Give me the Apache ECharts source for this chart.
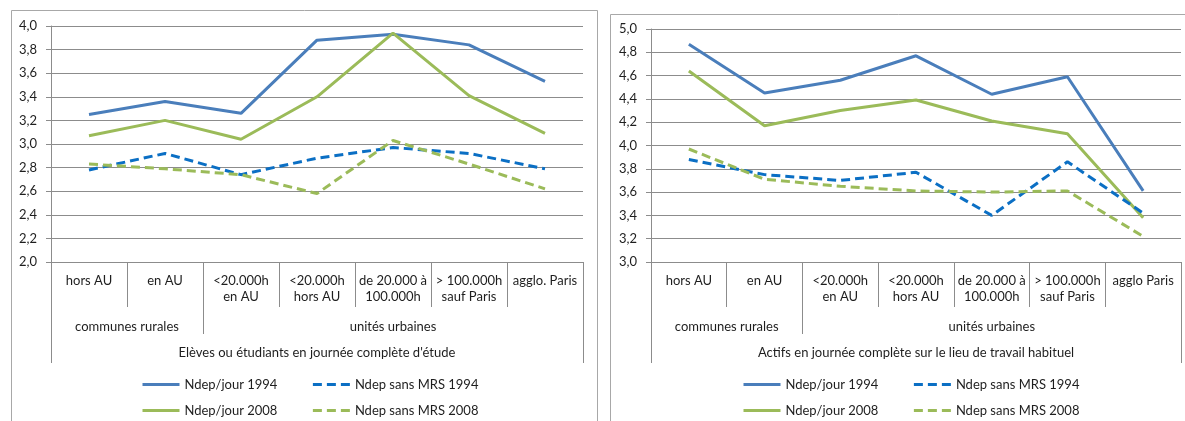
<!DOCTYPE html>
<html>
<head>
<meta charset="utf-8">
<script src="https://cdn.jsdelivr.net/npm/echarts@6/dist/echarts.min.js"></script>
<style>
  html, body { margin: 0; padding: 0; background: #fff; }
  #chart { width: 1185px; height: 421px; }
</style>
</head>
<body>
<div id="chart"></div>
<script>
// categories (first row of the axis)
const categoriesLeft = ['hors AU', 'en AU', '<20.000h\nen AU', '<20.000h\nhors AU', 'de 20.000 à\n100.000h', '> 100.000h\nsauf Paris', 'agglo. Paris'];
const categoriesRight = ['hors AU', 'en AU', '<20.000h\nen AU', '<20.000h\nhors AU', 'de 20.000 à\n100.000h', '> 100.000h\nsauf Paris', 'agglo Paris'];
// second row: groups and how many categories each one covers
const groupLabels = ['communes rurales', 'unités urbaines'];
const groupSpans = [2, 5];
// third row
const titleLeft = "Elèves ou étudiants en journée complète d'étude";
const titleRight = 'Actifs en journée complète sur le lieu de travail habituel';

const seriesNames = ['Ndep/jour 1994', 'Ndep sans MRS 1994', 'Ndep/jour 2008', 'Ndep sans MRS 2008'];

// left panel : élèves / étudiants
const leftJour1994 = [3.25, 3.36, 3.26, 3.88, 3.93, 3.84, 3.53];
const leftSansMrs1994 = [2.78, 2.92, 2.74, 2.88, 2.97, 2.92, 2.79];
const leftJour2008 = [3.07, 3.20, 3.04, 3.40, 3.94, 3.41, 3.09];
const leftSansMrs2008 = [2.83, 2.79, 2.74, 2.58, 3.03, 2.83, 2.62];

// right panel : actifs
const rightJour1994 = [4.87, 4.45, 4.56, 4.77, 4.44, 4.59, 3.61];
const rightSansMrs1994 = [3.88, 3.75, 3.70, 3.77, 3.40, 3.86, 3.42];
const rightJour2008 = [4.64, 4.17, 4.30, 4.39, 4.21, 4.10, 3.38];
const rightSansMrs2008 = [3.97, 3.71, 3.65, 3.61, 3.60, 3.61, 3.22];

// y axis ranges
const leftYMin = 2.0, leftYMax = 4.0;
const rightYMin = 3.0, rightYMax = 5.0;
const yStep = 0.2;

const FONT = 'Lato';
const TXT = '#1e1e1e';
const GRIDC = '#8c8c8c';
const BORDER = '#a8a8a8';

const chart = echarts.init(document.getElementById('chart'), null, { renderer: 'canvas' });

// group boundaries and centers from spans
const groupBounds = [];
const groupCenters = [];
let acc = 0;
groupSpans.forEach(function (s) {
    groupCenters.push(acc + s / 2);
    acc += s;
    groupBounds.push(acc);
});
const nCat = acc;

function makeXAxes(gridIndex, cats, title) {
    return [
        {
            gridIndex: gridIndex,
            type: 'category',
            position: 'bottom',
            data: cats,
            boundaryGap: true,
            axisLine: { lineStyle: { color: GRIDC, width: 1 } },
            axisTick: { show: true, interval: 0, length: 45, lineStyle: { color: GRIDC } },
            axisLabel: {
                interval: 0, margin: 11, fontFamily: FONT, fontSize: 13,
                lineHeight: 16, color: TXT, hideOverlap: false
            },
            splitLine: { show: false }
        },
        {
            gridIndex: gridIndex,
            type: 'value',
            position: 'bottom',
            min: 0, max: nCat,
            axisLine: { show: false },
            splitLine: { show: false },
            axisTick: {
                show: true, length: 72, customValues: groupBounds.slice(0, -1),
                lineStyle: { color: GRIDC }
            },
            axisLabel: {
                customValues: groupCenters, margin: 57, fontFamily: FONT, fontSize: 13,
                lineHeight: 16, color: TXT,
                formatter: function (v) {
                    const i = groupCenters.indexOf(v);
                    return i >= 0 ? groupLabels[i] : '';
                }
            }
        },
        {
            gridIndex: gridIndex,
            type: 'value',
            position: 'bottom',
            min: 0, max: nCat,
            axisLine: { show: false },
            splitLine: { show: false },
            axisTick: {
                show: true, length: 101, customValues: [0, nCat],
                lineStyle: { color: GRIDC }
            },
            axisLabel: {
                customValues: [nCat / 2], margin: 83, fontFamily: FONT, fontSize: 13,
                lineHeight: 16, color: TXT,
                formatter: function () { return title; }
            }
        }
    ];
}

function makeYAxis(gridIndex, min, max) {
    return {
        gridIndex: gridIndex,
        type: 'value',
        position: 'left',
        min: min, max: max, interval: yStep,
        axisLine: { show: true, lineStyle: { color: GRIDC } },
        axisTick: { show: true, length: 5, lineStyle: { color: GRIDC } },
        axisLabel: {
            margin: 14, fontFamily: FONT, fontSize: 13, color: TXT,
            formatter: function (v) { return v.toFixed(1).replace('.', ','); }
        },
        splitLine: { show: true, lineStyle: { color: GRIDC, width: 1 } }
    };
}

const styles = [
    { color: '#4a7ebb', type: 'solid' },
    { color: '#0b6fc4', type: [9, 5] },
    { color: '#9bbb59', type: 'solid' },
    { color: '#9bbb59', type: [9, 5] }
];

function makeSeries(xAxisIndex, yAxisIndex, dataList) {
    return dataList.map(function (d, i) {
        return {
            name: seriesNames[i],
            type: 'line',
            xAxisIndex: xAxisIndex,
            yAxisIndex: yAxisIndex,
            data: d,
            symbol: 'none',
            smooth: false,
            z: i % 2 === 1 ? 3 : 2,
            lineStyle: { width: 3, color: styles[i].color, type: styles[i].type },
            itemStyle: { color: styles[i].color }
        };
    });
}

function makeLegend(left, top, names) {
    return {
        left: left, top: top,
        orient: 'horizontal',
        data: names,
        itemWidth: 37, itemHeight: 12, itemGap: 34,
        padding: 0,
        selectedMode: false,
        // only the line, no symbol in the key
        itemStyle: { color: 'rgba(0,0,0,0)', borderColor: 'rgba(0,0,0,0)', borderWidth: 0 },
        lineStyle: { width: 3 },
        textStyle: { fontFamily: FONT, fontSize: 13, color: TXT }
    };
}

const option = {
    animation: false,
    backgroundColor: '#fff',
    graphic: [
        { type: 'rect', shape: { x: 11.5, y: 10.5, width: 586, height: 430 }, style: { fill: 'none', stroke: BORDER, lineWidth: 1 }, silent: true },
        { type: 'rect', shape: { x: 610.5, y: 14.5, width: 600, height: 430 }, style: { fill: 'none', stroke: BORDER, lineWidth: 1 }, silent: true }
    ],
    grid: [
        { left: 51, top: 26, width: 532, height: 236, outerBoundsMode: 'none' },
        { left: 651, top: 29, width: 530, height: 233, outerBoundsMode: 'none' }
    ],
    xAxis: makeXAxes(0, categoriesLeft, titleLeft).concat(makeXAxes(1, categoriesRight, titleRight)),
    yAxis: [makeYAxis(0, leftYMin, leftYMax), makeYAxis(1, rightYMin, rightYMax)],
    legend: [
        makeLegend(141, 378, [seriesNames[0], seriesNames[1]]),
        makeLegend(141, 404, [seriesNames[2], seriesNames[3]]),
        makeLegend(742, 378, [seriesNames[0], seriesNames[1]]),
        makeLegend(742, 404, [seriesNames[2], seriesNames[3]])
    ],
    series: makeSeries(0, 0, [leftJour1994, leftSansMrs1994, leftJour2008, leftSansMrs2008])
        .concat(makeSeries(3, 1, [rightJour1994, rightSansMrs1994, rightJour2008, rightSansMrs2008]))
};

chart.setOption(option, true);
</script>
</body>
</html>
